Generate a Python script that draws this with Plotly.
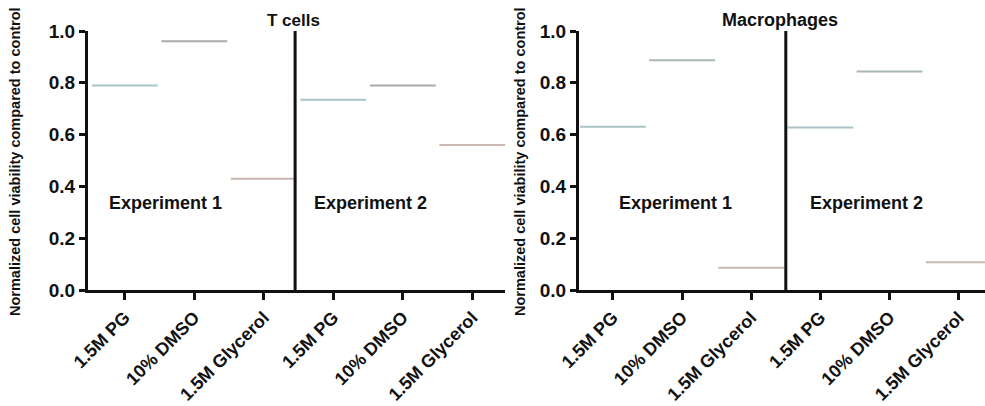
import plotly.graph_objects as go

W, H = 985, 406

categories = ["1.5M PG", "10% DMSO", "1.5M Glycerol", "1.5M PG", "10% DMSO", "1.5M Glycerol"]
tcell_values = [0.79, 0.96, 0.43, 0.735, 0.79, 0.56]
macro_values = [0.63, 0.887, 0.086, 0.627, 0.844, 0.107]
tcell_colors = ["#a7c5cc", "#a9adad", "#c9b7b0", "#a7c5cc", "#a9adad", "#c9b7b0"]
macro_colors = ["#a9c3c7", "#a9b7b7", "#c9b8b3", "#a9c3c7", "#a9b7b7", "#c9b8b3"]
y_ticks = [0.0, 0.2, 0.4, 0.6, 0.8, 1.0]
panel_titles = ["T cells", "Macrophages"]
exp_labels = ["Experiment 1", "Experiment 2"]
y_title = "Normalized cell viability compared to control"

FONT = "Liberation Sans, Arial, sans-serif"
xs = list(range(len(categories)))

fig = go.Figure()
fig.add_trace(go.Scatter(
    x=xs, y=tcell_values, mode="markers", xaxis="x", yaxis="y",
    marker=dict(symbol="line-ew", size=47, color=tcell_colors,
                line=dict(color=tcell_colors, width=2)),
    showlegend=False, hoverinfo="skip"))
fig.add_trace(go.Scatter(
    x=xs, y=macro_values, mode="markers", xaxis="x2", yaxis="y2",
    marker=dict(symbol="line-ew", size=47, color=macro_colors,
                line=dict(color=macro_colors, width=2)),
    showlegend=False, hoverinfo="skip"))

ydom = [(H - 290) / H, (H - 31) / H]

def xax(domain, rng):
    return dict(domain=domain, range=rng, tickmode="array", tickvals=xs,
                ticktext=categories, tickangle=-45, ticks="outside", ticklen=7,
                tickwidth=3, tickcolor="#111", showline=True, linewidth=3,
                linecolor="#111", showgrid=False, zeroline=False, automargin=False,
                tickfont=dict(family=FONT, size=18, color="#111", weight="bold"))

def yax(anchor):
    return dict(domain=ydom, range=[0, 1.0], anchor=anchor, tickmode="array",
                tickvals=y_ticks, ticktext=[f"{v:.1f}" for v in y_ticks],
                ticks="outside", ticklen=6, tickwidth=3, tickcolor="#111",
                showline=True, linewidth=3, linecolor="#111", showgrid=False,
                zeroline=False, automargin=False,
                tickfont=dict(family=FONT, size=19, color="#111", weight="bold"))

fig.update_layout(
    width=W, height=H, margin=dict(l=0, r=0, t=0, b=0, autoexpand=False),
    paper_bgcolor="white", plot_bgcolor="white",
    xaxis=dict(**xax([88 / W, 505 / W], [-0.53, 5.47]), anchor="y"),
    yaxis=yax("x"),
    xaxis2=dict(**xax([579 / W, 1.0], [-0.49, 5.38]), anchor="y2"),
    yaxis2=yax("x2"),
)

# dividers between experiments
fig.add_shape(type="line", xref="x", yref="y", x0=2.45, x1=2.45, y0=0, y1=1,
              line=dict(color="#111", width=3))
fig.add_shape(type="line", xref="x2", yref="y2", x0=2.5, x1=2.5, y0=0, y1=1,
              line=dict(color="#111", width=3))

ann = []
for xr, yr, pos in [("x", "y", [0.59, 3.54]), ("x2", "y2", [0.91, 3.67])]:
    for lab, px in zip(exp_labels, pos):
        ann.append(dict(text=f"<b>{lab}</b>", xref=xr, yref=yr, x=px, y=0.336,
                        showarrow=False, xanchor="center",
                        font=dict(family=FONT, size=18, color="#111")))
for t, cx, fs in zip(panel_titles, [293, 780], [17, 18]):
    ann.append(dict(text=f"<b>{t}</b>", xref="paper", yref="paper", x=cx / W,
                    y=(H - 20) / H, showarrow=False, xanchor="center", yanchor="middle",
                    font=dict(family=FONT, size=fs, color="#111")))
for cx in [15, 520]:
    ann.append(dict(text=f"<b>{y_title}</b>", xref="paper", yref="paper", x=cx / W,
                    y=(H - 162) / H, showarrow=False, textangle=-90,
                    xanchor="center", yanchor="middle",
                    font=dict(family=FONT, size=14.5, color="#111")))
fig.update_layout(annotations=ann)

fig.write_html("out.html", config={"displayModeBar": False},
               post_script="document.body.style.margin='0';")
